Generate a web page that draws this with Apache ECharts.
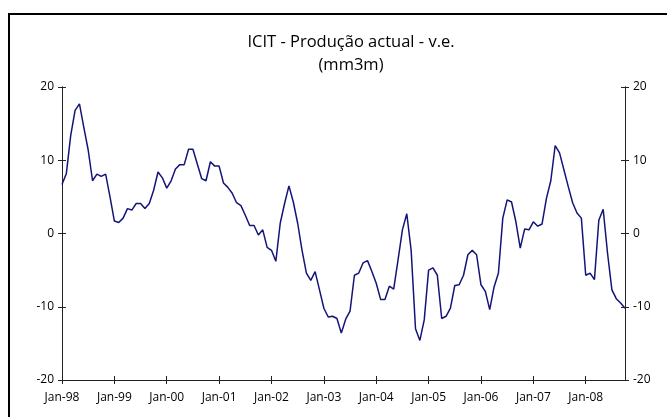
<!DOCTYPE html>
<html>
<head>
<meta charset="utf-8">
<script src="https://cdn.jsdelivr.net/npm/echarts@6/dist/echarts.min.js"></script>
<style>
  html, body { margin: 0; padding: 0; background: #fff; }
  #chart { width: 667px; height: 417px; }
</style>
</head>
<body>
<div id="chart"></div>
<script>
// monthly series, Jan-98 .. Oct-08
var years = ["98", "99", "00", "01", "02", "03", "04", "05", "06", "07", "08"];
var months = ["Jan", "Feb", "Mar", "Apr", "May", "Jun", "Jul", "Aug", "Sep", "Oct", "Nov", "Dec"];
var titleLines = ["ICIT - Produção actual - v.e.", "(mm3m)"];
var producao = [
  6.7, 8.2, 13.4, 16.8, 17.7, 14.5, 11.4, 7.2, 8.1, 7.8, 8.1, 5.0,
  1.7, 1.5, 2.1, 3.4, 3.2, 4.1, 4.1, 3.4, 4.1, 5.9, 8.4, 7.6,
  6.2, 7.2, 8.8, 9.4, 9.4, 11.5, 11.5, 9.5, 7.5, 7.2, 9.8, 9.2,
  9.2, 6.9, 6.3, 5.5, 4.2, 3.8, 2.5, 1.1, 1.1, -0.2, 0.5, -1.9,
  -2.3, -3.8, 1.4, 4.1, 6.5, 4.3, 1.4, -2.3, -5.4, -6.4, -5.2, -7.7,
  -10.2, -11.4, -11.3, -11.6, -13.6, -11.7, -10.6, -5.7, -5.4, -4.0, -3.7, -5.2,
  -6.8, -9.0, -9.0, -7.2, -7.6, -3.6, 0.5, 2.7, -2.3, -13.0, -14.6, -11.8,
  -5.0, -4.7, -5.7, -11.6, -11.3, -10.2, -7.1, -7.0, -5.7, -2.9, -2.3, -2.9,
  -7.0, -7.9, -10.4, -7.3, -5.4, 2.1, 4.6, 4.3, 1.6, -2.0, 0.6, 0.5,
  1.6, 1.0, 1.3, 4.8, 7.2, 12.0, 11.0, 8.7, 6.4, 4.2, 2.8, 2.1,
  -5.7, -5.4, -6.3, 1.8, 3.3, -2.7, -7.7, -8.9, -9.5, -10.2
];

var categories = [];
for (var i = 0; i < producao.length; i++) {
  categories.push(months[i % 12] + "-" + years[Math.floor(i / 12)]);
}

var font = "Open Sans";
var axisColor = "#222";

function yAxisDef(pos, inside, labels) {
  return {
    type: "value",
    position: pos,
    min: -20,
    max: 20,
    interval: 10,
    splitLine: { show: false },
    axisLine: { show: true, onZero: false, lineStyle: { color: axisColor, width: 1 } },
    axisTick: { show: true, inside: inside, length: 4, lineStyle: { color: axisColor } },
    axisLabel: {
      show: labels,
      color: "#000",
      fontFamily: font,
      fontSize: 12,
      margin: 8
    }
  };
}

function xAxisDef(inside, labels) {
  return {
    type: "category",
    data: categories,
    boundaryGap: false,
    position: "bottom",
    axisLine: { show: true, onZero: false, lineStyle: { color: axisColor, width: 1 } },
    axisTick: { show: true, inside: inside, length: 4, interval: 11, lineStyle: { color: axisColor } },
    axisLabel: {
      show: labels,
      interval: 11,
      color: "#000",
      fontFamily: font,
      fontSize: 12,
      margin: 12
    },
    splitLine: { show: false }
  };
}

var myChart = echarts.init(document.getElementById("chart"));
var option = {
  animation: false,
  backgroundColor: "#fff",
  graphic: [
    {
      type: "rect",
      shape: { x: 9, y: 14, width: 720, height: 500 },
      style: { fill: "none", stroke: "#000", lineWidth: 2 },
      silent: true
    },
    {
      type: "text",
      x: 351,
      y: 42,
      style: {
        text: titleLines[0],
        font: "16.5px 'Open Sans'",
        fill: "#000",
        textAlign: "center",
        textVerticalAlign: "middle"
      }
    },
    {
      type: "text",
      x: 351,
      y: 65,
      style: {
        text: titleLines[1],
        font: "16.5px 'Open Sans'",
        fill: "#000",
        textAlign: "center",
        textVerticalAlign: "middle"
      }
    }
  ],
  grid: { left: 62, right: 42, top: 87, bottom: 37, containLabel: false },
  xAxis: [xAxisDef(false, true), xAxisDef(true, false)],
  yAxis: [
    yAxisDef("left", false, true),
    yAxisDef("left", true, false),
    yAxisDef("right", false, true),
    yAxisDef("right", true, false)
  ],
  series: [
    {
      name: "ICIT",
      type: "line",
      data: producao,
      xAxisIndex: 0,
      yAxisIndex: 0,
      symbol: "none",
      lineStyle: { color: "#141478", width: 1.5 }
    }
  ]
};
myChart.setOption(option);
</script>
</body>
</html>
